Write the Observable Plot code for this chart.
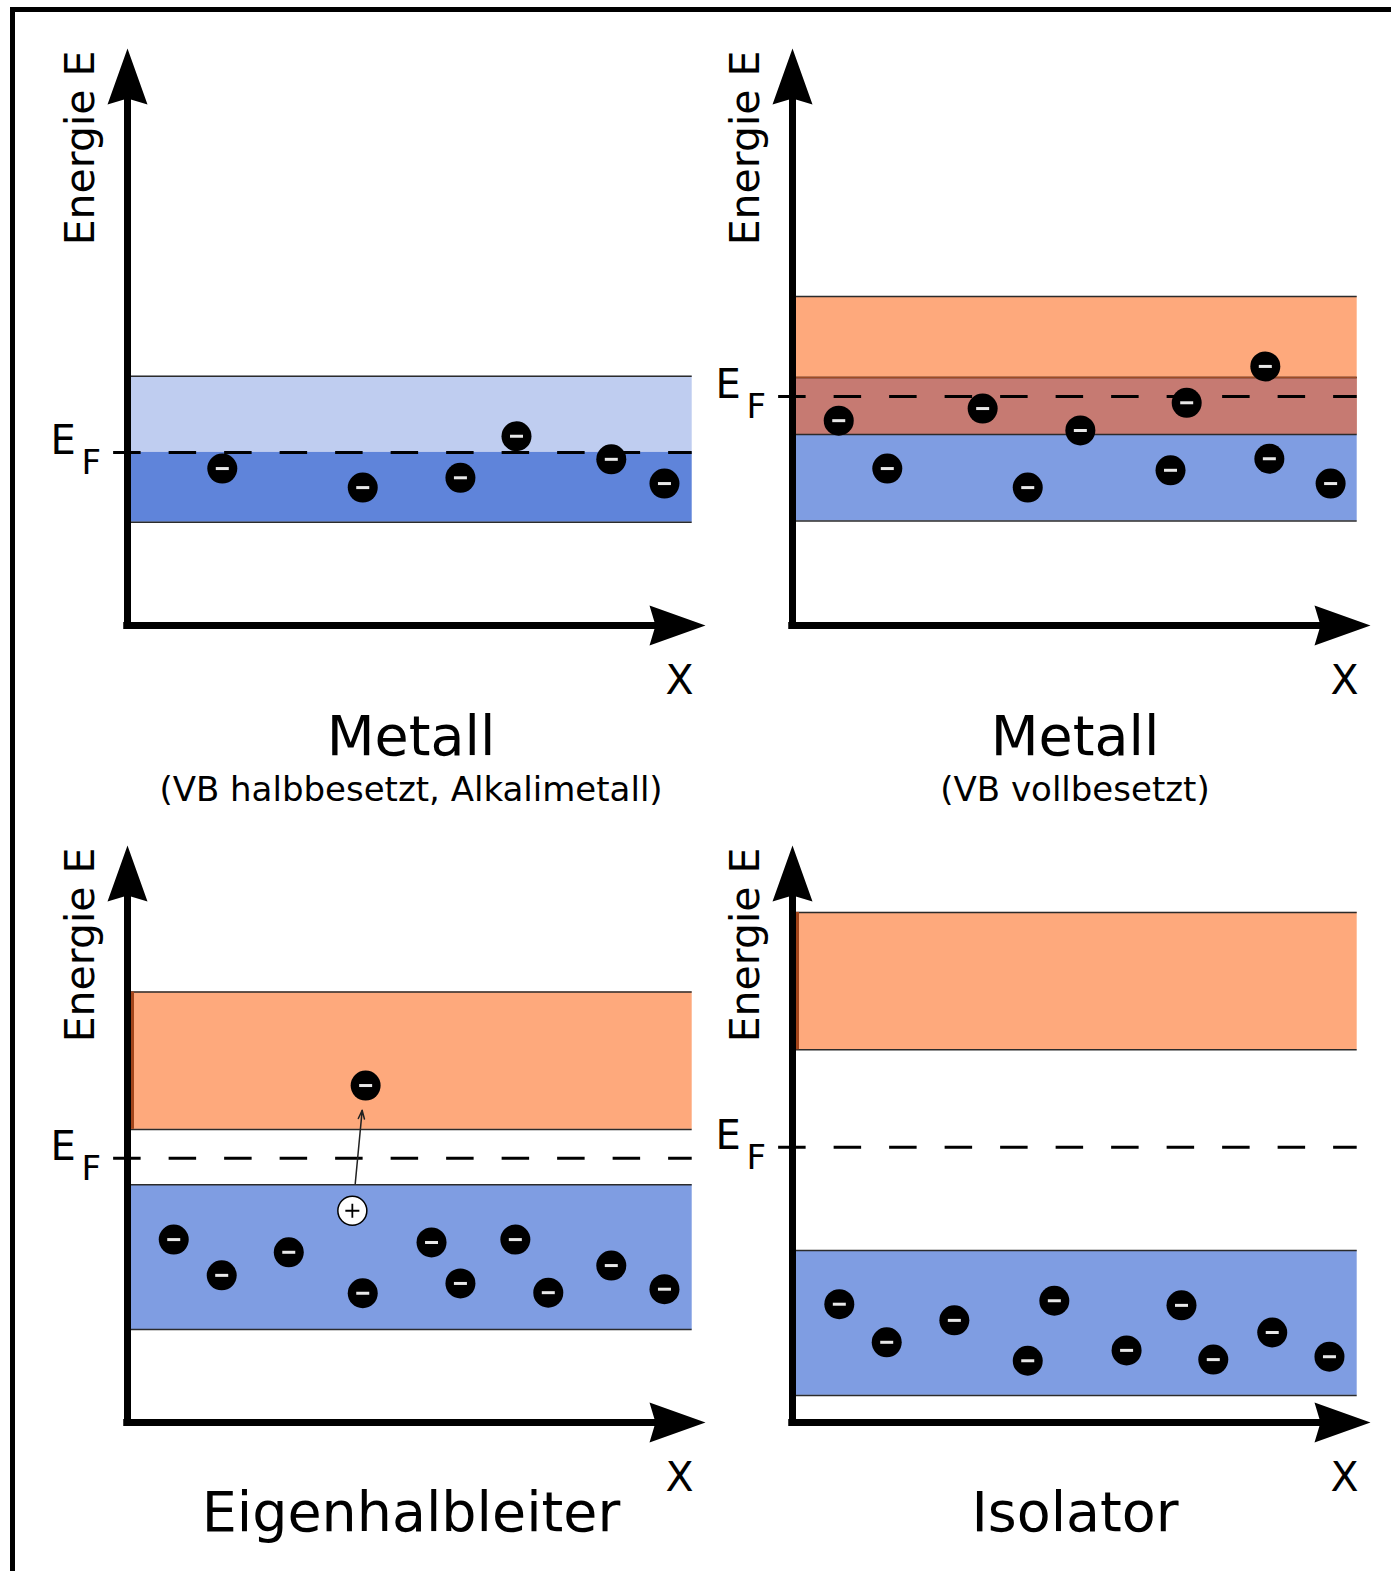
<!DOCTYPE html>
<html>
<head>
<meta charset="utf-8">
<script src="https://cdn.jsdelivr.net/npm/d3@7"></script>
<script src="https://cdn.jsdelivr.net/npm/@observablehq/plot@0.6"></script>
<style>
  html, body { margin: 0; padding: 0; background: #fff; overflow: hidden; }
  #wrap { position: relative; width: 1391px; height: 1571px; font-family: "DejaVu Sans", sans-serif; color: #000; overflow: hidden; }
  #rahmen { position: absolute; left: 10px; top: 7px; width: 1500px; height: 1700px; border-top: 5px solid #000; border-left: 5px solid #000; }
  .panel { position: absolute; width: 728px; height: 700px; }
  .panel svg { max-width: none !important; }
  .titel { position: absolute; width: 700px; text-align: center; line-height: 1; white-space: nowrap; }
</style>
</head>
<body>
<div id="wrap"><div id="rahmen"></div></div>
<script>
// ---------- texts ----------
const titel = ["Metall", "Metall", "Eigenhalbleiter", "Isolator"];
const untertitel = ["(VB halbbesetzt, Alkalimetall)", "(VB vollbesetzt)", "", ""];
const yLabel = "Energie E";
const xLabel = "X";
const fermiLabel = ["E", "F"];

// ---------- band types & colours ----------
const bandTypen = ["VB, unbesetzt", "VB, besetzt", "Valenzband", "Leitungsband", "Überlappung"];
const bandFarben = ["#bfcdf0", "#5f84da", "#7f9de2", "#fea97c", "#c67a72"];

// x-extent of the bands (axis units 0..100)
const bandBreite = [0, 97.7];

// ---------- Panel 1: Metall (VB halbbesetzt) ----------
const baender1 = [
  {typ: "VB, unbesetzt", lo: 30.0, hi: 43.2},
  {typ: "VB, besetzt", lo: 17.9, hi: 30.0}
];
const fermi1 = 30.0;
const elektronen1 = [
  {x: 16.4, E: 27.2}, {x: 40.7, E: 23.9}, {x: 57.6, E: 25.6},
  {x: 67.3, E: 32.8}, {x: 83.7, E: 28.8}, {x: 92.9, E: 24.6}
];

// ---------- Panel 2: Metall (VB vollbesetzt) ----------
const baender2 = [
  {typ: "Valenzband", lo: 18.1, hi: 43.0},
  {typ: "Leitungsband", lo: 33.1, hi: 57.0}
];
const fermi2 = 39.7;
const elektronen2 = [
  {x: 8.0, E: 35.5}, {x: 16.4, E: 27.2}, {x: 32.9, E: 37.6}, {x: 40.7, E: 23.9},
  {x: 49.8, E: 33.8}, {x: 65.4, E: 26.9}, {x: 68.2, E: 38.6}, {x: 81.8, E: 44.9},
  {x: 82.5, E: 28.9}, {x: 93.1, E: 24.6}
];

// ---------- Panel 3: Eigenhalbleiter ----------
const baender3 = [
  {typ: "Valenzband", lo: 16.1, hi: 41.2},
  {typ: "Leitungsband", lo: 50.8, hi: 74.6}
];
const fermi3 = 45.8;
const elektronen3 = [
  {x: 8.0, E: 31.7}, {x: 16.3, E: 25.5}, {x: 27.9, E: 29.5}, {x: 40.7, E: 22.4},
  {x: 52.6, E: 31.2}, {x: 57.6, E: 24.1}, {x: 67.1, E: 31.7}, {x: 72.8, E: 22.5},
  {x: 83.7, E: 27.2}, {x: 92.9, E: 23.1}, {x: 41.2, E: 58.4}
];
const loecher3 = [{x: 38.9, E: 36.7}];
const uebergaenge3 = [{x1: 39.4, E1: 41.4, x2: 40.6, E2: 54.1}];

// ---------- Panel 4: Isolator ----------
const baender4 = [
  {typ: "Valenzband", lo: 4.7, hi: 29.8},
  {typ: "Leitungsband", lo: 64.6, hi: 88.4}
];
const fermi4 = 47.7;
const elektronen4 = [
  {x: 8.1, E: 20.5}, {x: 16.3, E: 13.9}, {x: 28.0, E: 17.7}, {x: 40.7, E: 10.7},
  {x: 45.3, E: 21.1}, {x: 57.8, E: 12.5}, {x: 67.3, E: 20.3}, {x: 72.8, E: 10.9},
  {x: 83.0, E: 15.6}, {x: 92.9, E: 11.4}
];

// ---------- symbols ----------
const pfeilOben = {draw(ctx, size) {
  const s = Math.sqrt(size / Math.PI);
  ctx.moveTo(0, 0); ctx.lineTo(s, 2.8 * s); ctx.lineTo(0, 2.5 * s); ctx.lineTo(-s, 2.8 * s); ctx.closePath();
}};
const pfeilRechts = {draw(ctx, size) {
  const s = Math.sqrt(size / Math.PI);
  ctx.moveTo(0, 0); ctx.lineTo(-2.8 * s, s); ctx.lineTo(-2.5 * s, 0); ctx.lineTo(-2.8 * s, -s); ctx.closePath();
}};
const minusSym = {draw(ctx, size) {
  const s = Math.sqrt(size / Math.PI);
  ctx.moveTo(-s, 0); ctx.lineTo(s, 0);
}};
const plusSym = {draw(ctx, size) {
  const s = Math.sqrt(size / Math.PI);
  ctx.moveTo(-s, 0); ctx.lineTo(s, 0); ctx.moveTo(0, -s); ctx.lineTo(0, s);
}};

function panel({baender, fermi, elektronen, loecher = [], uebergaenge = [], lbKante = false}) {
  const lb = baender.filter(b => b.typ === "Leitungsband");
  const vb = baender.filter(b => b.typ === "Valenzband");
  const ueberlapp = [];
  for (const a of lb) for (const b of vb) {
    const lo = Math.max(a.lo, b.lo), hi = Math.min(a.hi, b.hi);
    if (hi > lo) ueberlapp.push({typ: "Überlappung", lo, hi});
  }
  const flaechen = [...baender, ...ueberlapp];
  const kanten = [];
  for (const b of baender) for (const k of [b.lo, b.hi])
    if (!baender.some(c => c !== b && (c.lo === k || c.hi === k))) kanten.push(k);

  const [bx1, bx2] = bandBreite;
  return Plot.plot({
    width: 728, height: 700,
    marginLeft: 127, marginRight: 23, marginTop: 48, marginBottom: 75,
    x: {domain: [0, 100], axis: null},
    y: {domain: [0, 100], axis: null},
    color: {domain: bandTypen, range: bandFarben},
    style: {background: "transparent", overflow: "visible", fontFamily: "DejaVu Sans", color: "#000", maxWidth: "none"},
    marks: [
      Plot.rect(flaechen, {x1: bx1, x2: bx2, y1: "lo", y2: "hi", fill: "typ"}),
      Plot.ruleY(kanten, {x1: bx1, x2: bx2, stroke: "#2b2b2b", strokeWidth: 1.5}),
      Plot.ruleY(ueberlapp, {y: "hi", x1: bx1, x2: bx2, stroke: "#9e4b26", strokeWidth: 1.5}),
      lbKante ? Plot.ruleX(lb, {x: bx1, y1: "lo", y2: "hi", dx: 5, stroke: "#a2451b", strokeWidth: 3}) : null,
      Plot.ruleY([fermi], {x1: -2.4, x2: bx2, stroke: "#000", strokeWidth: 3, strokeDasharray: "27.5,28"}),
      // axes
      Plot.ruleX([0], {y1: -0.65, y2: 92, stroke: "#000", strokeWidth: 7}),
      Plot.ruleY([0], {x1: -0.65, x2: 92, stroke: "#000", strokeWidth: 7}),
      Plot.dot([0], {x: 0, y: 100, symbol: pfeilOben, r: 20, fill: "#000", stroke: "none"}),
      Plot.dot([0], {x: 100, y: 0, symbol: pfeilRechts, r: 20, fill: "#000", stroke: "none"}),
      // transitions
      Plot.arrow(uebergaenge, {x1: "x1", y1: "E1", x2: "x2", y2: "E2", stroke: "#222", strokeWidth: 1.5, headLength: 9, headAngle: 40}),
      // electrons
      Plot.dot(elektronen, {x: "x", y: "E", r: 15, fill: "#000", stroke: "none"}),
      Plot.dot(elektronen, {x: "x", y: "E", r: 6.5, symbol: minusSym, fill: "none", stroke: "#e8e8e8", strokeWidth: 3}),
      // holes
      Plot.dot(loecher, {x: "x", y: "E", r: 14.5, fill: "#fff", stroke: "#000", strokeWidth: 1.5}),
      Plot.dot(loecher, {x: "x", y: "E", r: 7, symbol: plusSym, fill: "none", stroke: "#000", strokeWidth: 1.8}),
      // labels
      Plot.text([yLabel], {x: 0, y: 100, text: d => d, rotate: -90, textAnchor: "end", lineAnchor: "bottom", dx: -34, dy: 2, fontSize: 41, fill: "#000"}),
      Plot.text([fermi], {x: 0, y: d => d, text: () => fermiLabel[0], textAnchor: "start", lineAnchor: "bottom", dx: -77, dy: 2, fontSize: 40, fill: "#000"}),
      Plot.text([fermi], {x: 0, y: d => d, text: () => fermiLabel[1], textAnchor: "start", lineAnchor: "bottom", dx: -46, dy: 22, fontSize: 34, fill: "#000"}),
      Plot.text([xLabel], {x: 100, y: 0, text: d => d, textAnchor: "middle", lineAnchor: "bottom", dx: -26, dy: 68, fontSize: 41, fill: "#000"})
    ]
  });
}

const configs = [
  {baender: baender1, fermi: fermi1, elektronen: elektronen1},
  {baender: baender2, fermi: fermi2, elektronen: elektronen2},
  {baender: baender3, fermi: fermi3, elektronen: elektronen3, loecher: loecher3, uebergaenge: uebergaenge3, lbKante: true},
  {baender: baender4, fermi: fermi4, elektronen: elektronen4, lbKante: true}
];

const wrap = document.getElementById("wrap");
const offX = [0, 665], offY = [0, 797];
const titelMitte = [411, 1075];
configs.forEach((cfg, i) => {
  const col = i % 2, row = Math.floor(i / 2);
  const div = document.createElement("div");
  div.className = "panel";
  div.style.left = offX[col] + "px";
  div.style.top = offY[row] + "px";
  div.appendChild(panel(cfg));
  wrap.appendChild(div);

  const t = document.createElement("div");
  t.className = "titel";
  t.style.fontSize = "55.5px";
  t.style.left = (titelMitte[col] - 350) + "px";
  t.style.top = (row === 0 ? 707.5 : 1483.5) + "px";
  t.textContent = titel[i];
  wrap.appendChild(t);

  if (untertitel[i]) {
    const s = document.createElement("div");
    s.className = "titel";
    s.style.fontSize = "34px";
    s.style.left = (titelMitte[col] - 350) + "px";
    s.style.top = "772px";
    s.textContent = untertitel[i];
    wrap.appendChild(s);
  }
});
</script>
</body>
</html>
